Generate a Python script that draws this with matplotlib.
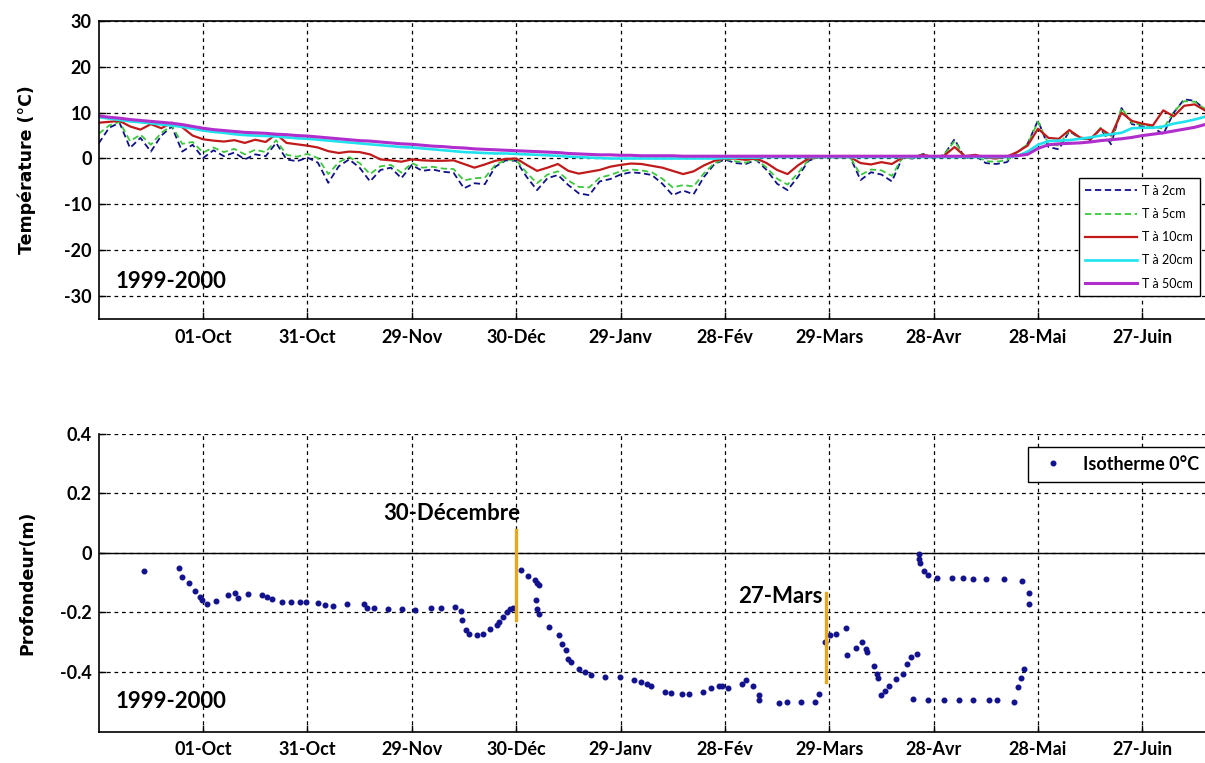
import matplotlib
matplotlib.use("Agg")
import matplotlib.pyplot as plt
import numpy as np
import pandas as pd

# Soil temperatures, one value every 3 days from 1 Sep 1999
start = pd.Timestamp("1999-09-01")
t2 = [3.3, 6.7, 7.8, 2.3, 4.5, 1.5, 5.0, 7.0, 1.5, 3.0,
      0.1, 1.8, 0.5, 1.3, -0.2, 0.9, 0.5, 3.4, -0.2, -0.6,
      0.2, -0.9, -5.3, -1.7, -0.2, -2.0, -5.0, -2.5, -2.0, -4.3,
      -1.4, -2.7, -2.4, -2.9, -3.1, -6.5, -5.4, -5.6, -1.8, -0.4,
      -0.5, -4.0, -6.9, -4.3, -3.6, -5.8, -7.6, -8.0, -5.0, -4.5,
      -3.5, -3.0, -3.2, -3.6, -5.5, -8.0, -7.0, -7.8, -4.0, -1.2,
      -0.2, -1.0, -1.2, -0.3, -2.5, -5.5, -6.9, -4.0, -0.5, 0.3,
      0.3, 0.3, 0.3, -4.7, -3.0, -3.5, -5.0, 0.2, 0.0, 1.0,
      0.0, 0.8, 4.2, 0.0, 0.6, -1.0, -1.2, -0.8, 1.2, 3.2,
      8.3, 2.5, 2.0, 6.0, 4.4, 4.0, 6.5, 3.1, 11.0, 7.5,
      7.0, 6.8, 5.3, 10.0, 12.9, 12.6, 10.7]
t5 = [5.4, 7.2, 8.0, 3.8, 5.2, 3.0, 5.6, 7.2, 3.2, 3.6,
      1.3, 2.4, 1.4, 2.1, 0.9, 1.9, 1.4, 4.0, 0.8, 0.4,
      1.0, 0.1, -3.4, -0.8, 0.3, -1.0, -3.4, -1.7, -1.4, -3.1,
      -1.0, -2.0, -1.8, -2.2, -2.3, -4.8, -4.3, -4.2, -1.4, -0.3,
      -0.3, -3.1, -5.4, -3.5, -2.8, -4.8, -6.2, -6.3, -4.2, -3.6,
      -2.8, -2.4, -2.6, -3.0, -4.4, -6.3, -5.8, -6.1, -3.2, -1.0,
      -0.1, -0.6, -0.9, -0.2, -2.0, -4.4, -5.7, -3.2, -0.3, 0.3,
      0.3, 0.3, 0.3, -3.6, -2.4, -2.6, -3.8, 0.2, 0.1, 1.0,
      0.1, 0.8, 3.8, 0.2, 0.7, -0.6, -0.7, -0.4, 1.3, 3.1,
      8.0, 3.2, 2.8, 6.2, 4.5, 4.1, 6.7, 3.8, 11.0, 7.8,
      7.3, 7.0, 6.5, 10.2, 12.5, 12.4, 10.8]
t10 = [7.8, 8.0, 8.2, 7.0, 6.3, 7.5, 6.6, 7.8, 6.8, 5.0,
       4.2, 3.9, 3.7, 4.0, 3.4, 4.1, 3.6, 5.3, 3.4, 3.1,
       2.8, 2.4, 1.6, 1.2, 1.5, 1.4, 0.9, -0.2, -0.4, -0.7,
       -0.2, -0.4, -0.5, -0.5, -0.4, -1.2, -2.0, -1.3, -0.5, -0.1,
       0.0, -1.4, -2.7, -2.0, -1.2, -2.7, -3.3, -2.9, -2.5, -1.8,
       -1.4, -1.1, -1.2, -1.6, -2.0, -2.7, -3.4, -2.8, -1.5, -0.5,
       0.0, 0.0, -0.3, 0.0, -1.0, -2.5, -3.4, -1.5, 0.0, 0.3,
       0.3, 0.3, 0.3, -1.0, -1.3, -0.8, -1.2, 0.2, 0.3, 0.8,
       0.3, 0.6, 2.5, 0.5, 0.8, 0.2, 0.0, 0.4, 1.4, 2.8,
       6.5, 4.5, 4.3, 6.2, 4.6, 4.2, 6.5, 5.0, 10.0, 8.2,
       7.6, 7.2, 10.5, 9.2, 11.5, 11.8, 10.5]
t20 = [9.0, 8.7, 8.4, 8.1, 7.9, 7.7, 7.4, 7.2, 6.9, 6.5,
       6.1, 5.8, 5.6, 5.3, 5.1, 5.0, 4.9, 4.8, 4.6, 4.4,
       4.3, 4.1, 3.9, 3.7, 3.5, 3.3, 3.1, 2.9, 2.7, 2.5,
       2.4, 2.2, 2.0, 1.8, 1.6, 1.4, 1.3, 1.2, 1.1, 1.1,
       1.0, 0.9, 0.8, 0.7, 0.6, 0.4, 0.3, 0.2, 0.1, 0.0,
       0.0, 0.0, 0.0, 0.0, 0.0, 0.0, 0.0, 0.0, 0.0, 0.0,
       0.1, 0.2, 0.2, 0.2, 0.3, 0.3, 0.3, 0.3, 0.3, 0.3,
       0.3, 0.3, 0.3, 0.3, 0.3, 0.3, 0.3, 0.3, 0.3, 0.3,
       0.3, 0.3, 0.3, 0.3, 0.3, 0.3, 0.3, 0.3, 0.5, 1.5,
       3.0, 3.8, 3.9, 4.0, 4.3, 4.6, 5.0, 5.3, 5.6, 6.6,
       6.7, 6.7, 7.0, 7.6, 8.0, 8.5, 9.1]
t50 = [9.3, 9.0, 8.8, 8.5, 8.3, 8.1, 7.9, 7.7, 7.4, 7.0,
       6.6, 6.3, 6.1, 5.9, 5.7, 5.6, 5.5, 5.3, 5.2, 5.0,
       4.9, 4.7, 4.5, 4.3, 4.1, 3.9, 3.8, 3.6, 3.4, 3.2,
       3.1, 2.9, 2.7, 2.6, 2.4, 2.3, 2.1, 2.0, 1.9, 1.8,
       1.7, 1.6, 1.5, 1.4, 1.3, 1.1, 1.0, 0.9, 0.8, 0.8,
       0.7, 0.7, 0.6, 0.6, 0.6, 0.6, 0.5, 0.5, 0.5, 0.5,
       0.5, 0.5, 0.5, 0.5, 0.5, 0.5, 0.5, 0.5, 0.5, 0.5,
       0.5, 0.5, 0.5, 0.5, 0.5, 0.5, 0.5, 0.5, 0.5, 0.5,
       0.5, 0.5, 0.5, 0.5, 0.5, 0.5, 0.5, 0.5, 0.6, 0.9,
       2.2, 3.0, 3.2, 3.3, 3.4, 3.6, 3.9, 4.1, 4.3, 4.6,
       5.0, 5.3, 5.6, 6.0, 6.4, 6.8, 7.4]

# Isotherme 0°C: days since 1 Sep 1999, depth (m)
iso_day = [12.9, 23.0, 23.9, 25.9, 27.7, 29.0, 29.6, 31.0, 33.8, 37.1,
           39.1, 40.0, 42.9, 47.0, 48.3, 49.9, 52.8, 55.2, 58.0, 59.6,
           62.9, 65.1, 67.3, 71.5, 76.3, 77.2, 79.2, 83.2, 87.1, 91.0,
           95.4, 98.4, 102.3, 104.2, 104.4, 105.5, 106.4, 108.6, 110.4, 112.6,
           114.6, 115.1, 116.3, 117.4, 118.2, 119.0, 121.4, 123.4, 125.4, 126.1,
           126.7, 125.6, 126.1, 126.7, 129.5, 132.4, 133.3, 134.2, 134.9, 135.8,
           138.2, 139.9, 141.5, 145.4, 149.8, 153.8, 156.0, 157.6, 158.8, 162.9,
           164.6, 167.6, 169.8, 173.8, 176.0, 178.2, 179.3, 181.0, 184.9, 186.0,
           188.2, 189.7, 189.7, 195.6, 197.8, 201.9, 205.8, 207.0, 208.7, 210.3,
           211.9, 214.8, 215.0, 217.8, 219.4, 220.5, 220.9, 223.0, 223.7, 224.1,
           225.0, 226.1, 227.2, 229.2, 231.1, 232.2, 233.6, 235.2, 234.1, 238.3,
           243.1, 247.2, 251.4, 256.0, 258.2, 263.2, 264.3, 265.2, 266.0, 235.8,
           235.8, 236.1, 237.2, 238.3, 241.1, 245.2, 248.3, 251.4, 255.1, 260.2,
           265.4, 267.3, 267.3]
iso_depth = [-0.06, -0.05, -0.08, -0.10, -0.128, -0.148, -0.157, -0.170, -0.161, -0.142,
             -0.134, -0.153, -0.139, -0.142, -0.148, -0.156, -0.165, -0.165, -0.165, -0.165,
             -0.167, -0.176, -0.178, -0.170, -0.173, -0.184, -0.184, -0.189, -0.187, -0.193,
             -0.184, -0.184, -0.182, -0.195, -0.226, -0.260, -0.271, -0.275, -0.271, -0.254,
             -0.243, -0.232, -0.215, -0.198, -0.190, -0.184, -0.056, -0.078, -0.090, -0.100,
             -0.109, -0.159, -0.187, -0.204, -0.249, -0.277, -0.305, -0.327, -0.355, -0.366,
             -0.389, -0.400, -0.411, -0.415, -0.417, -0.426, -0.434, -0.441, -0.448, -0.467,
             -0.471, -0.475, -0.475, -0.467, -0.453, -0.445, -0.445, -0.453, -0.439, -0.428,
             -0.445, -0.478, -0.493, -0.504, -0.499, -0.501, -0.501, -0.473, -0.299, -0.277,
             -0.271, -0.252, -0.344, -0.318, -0.299, -0.322, -0.333, -0.378, -0.406, -0.420,
             -0.478, -0.462, -0.445, -0.422, -0.406, -0.372, -0.350, -0.338, -0.490, -0.495,
             -0.495, -0.495, -0.495, -0.495, -0.495, -0.501, -0.450, -0.419, -0.389, -0.004,
             -0.022, -0.034, -0.060, -0.075, -0.083, -0.083, -0.084, -0.089, -0.089, -0.089,
             -0.094, -0.134, -0.173]

tick_dates = ["1999-10-01", "1999-10-31", "1999-11-30", "1999-12-30", "2000-01-29",
              "2000-02-28", "2000-03-29", "2000-04-28", "2000-05-28", "2000-06-27"]
tick_labels = ["01-Oct", "31-Oct", "29-Nov", "30-Déc", "29-Janv",
               "28-Fév", "29-Mars", "28-Avr", "28-Mai", "27-Juin"]
marker_dates = ["1999-12-30", "2000-03-28"]
marker_ranges = [(0.075, -0.225), (-0.133, -0.433)]
marker_texts = ["30-Décembre", "27-Mars"]

plt.rcParams["font.family"] = ["Lato", "DejaVu Sans"]
plt.rcParams["axes.unicode_minus"] = False

dates = pd.date_range(start, periods=len(t2), freq="3D")
iso_dates = start + pd.to_timedelta(iso_day, unit="D")
xmin, xmax = start, start + pd.Timedelta(days=318)

fig = plt.figure(figsize=(12.05, 7.63), dpi=100)
ax1 = fig.add_axes([0.0819, 0.582, 0.9181, 0.3905])
ax2 = fig.add_axes([0.0819, 0.041, 0.9181, 0.3907])

dash = (0, (3.5, 2))
ax1.plot(dates, t2, color="#10108A", lw=1.3, ls=dash, label="T à 2cm")
ax1.plot(dates, t5, color="#3CC83C", lw=1.3, ls=dash, label="T à 5cm")
ax1.plot(dates, t10, color="#C01A1A", lw=1.6, label="T à 10cm")
ax1.plot(dates, t20, color="#20E2EE", lw=1.9, label="T à 20cm")
ax1.plot(dates, t50, color="#B02ECC", lw=2.2, label="T à 50cm")
ax1.set_ylim(-35, 30)
ax1.set_yticks([30, 20, 10, 0, -10, -20, -30])
ax1.text(start + pd.Timedelta(days=4.7), -26.9, "1999-2000", fontsize=16,
         fontweight="bold", va="center", ha="left")
ax1.set_ylabel("Température (°C)", family="DejaVu Sans", fontweight="bold", fontsize=12.5)

ax2.plot(iso_dates, iso_depth, ls="none", marker="o", ms=3.3, color="#12128E",
         label="Isotherme 0°C", zorder=3)
ax2.axhline(0, color="black", lw=1.0)
for d, (y0, y1) in zip(marker_dates, marker_ranges):
    ax2.plot([pd.Timestamp(d), pd.Timestamp(d)], [y0, y1], color="#E8A71C", lw=2.4, zorder=4)
ax2.text(pd.Timestamp(marker_dates[0]) + pd.Timedelta(days=1.3), 0.133, marker_texts[0],
         fontsize=16, fontweight="bold", ha="right", va="center")
ax2.text(pd.Timestamp(marker_dates[1]) - pd.Timedelta(days=1.0), -0.145, marker_texts[1],
         fontsize=16, fontweight="bold", ha="right", va="center")
ax2.text(start + pd.Timedelta(days=4.7), -0.5, "1999-2000", fontsize=16,
         fontweight="bold", va="center", ha="left")
ax2.set_ylim(-0.6, 0.4)
ax2.set_yticks([0.4, 0.2, 0, -0.2, -0.4])
ax2.set_yticklabels(["0.4", "0.2", "0", "-0.2", "-0.4"])
ax2.set_ylabel("Profondeur(m)", family="DejaVu Sans", fontweight="bold", fontsize=12.5)
ax2.spines["top"].set_visible(False)

for ax in (ax1, ax2):
    ax.set_xlim(xmin, xmax)
    ax.set_xticks(pd.to_datetime(tick_dates))
    ax.set_xticklabels(tick_labels)
    ax.grid(True, color="black", ls=(0, (3, 3)), lw=0.9)
    ax.tick_params(direction="in", length=5, width=1, labelsize=13, pad=7)
    ax.tick_params(axis="y", pad=5)
    for lab in ax.get_xticklabels() + ax.get_yticklabels():
        lab.set_fontweight("bold")
    ax.spines["right"].set_visible(False)
    for s in ("left", "bottom", "top"):
        ax.spines[s].set_linewidth(1.2)
    ax.yaxis.set_label_coords(-0.0563, 0.5)

leg1 = ax1.legend(loc="lower left", bbox_to_anchor=(0.8952, 0.6121), bbox_transform=fig.transFigure,
                  fontsize=9, fancybox=False, edgecolor="black", framealpha=1,
                  handlelength=4.2, handletextpad=0.4, labelspacing=0.9, borderpad=0.5,
                  borderaxespad=0)
leg1.get_frame().set_linewidth(1.0)
leg2 = ax2.legend(loc="lower left", bbox_to_anchor=(0.8527, 0.3687), bbox_transform=fig.transFigure,
                  prop={"size": 13, "weight": "bold"}, fancybox=False, edgecolor="black",
                  framealpha=1, numpoints=1, handlelength=1.8, handletextpad=0.8,
                  borderpad=0.5, borderaxespad=0)
leg2.get_frame().set_linewidth(1.0)

fig.savefig("out.png", dpi=100)
